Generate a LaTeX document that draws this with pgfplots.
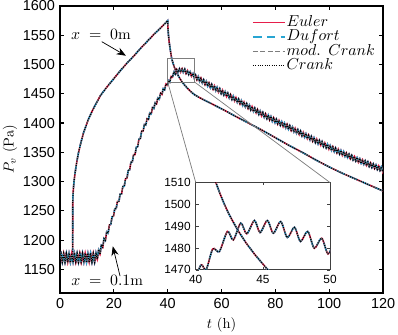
\documentclass[border=0pt]{standalone}
\usepackage{fontspec}
\newfontfamily\helv{Liberation Sans}
\usepackage{pgfplots}
\pgfplotsset{compat=1.18}
\usepackage{pgfplotstable}
\usetikzlibrary{arrows.meta}

\definecolor{eulerred}{RGB}{230,30,75}
\definecolor{dufortcyan}{RGB}{40,165,210}
\definecolor{modgray}{RGB}{125,125,125}

% surface, x = 0 m
\pgfplotstableread{
t P
0 1170
4.7 1170
4.72 1262
4.8 1275
5.0 1290
5.3 1304
5.6 1315
6.2 1333
6.8 1348
7.5 1362
8.7 1383
10.5 1406
12 1421
13 1430
14.2 1440
15 1447
17.5 1462
20 1476
22.5 1490
25 1503
27.5 1515
30 1528
32.5 1540
35 1552
37.5 1563
39 1570
40 1575
40.1 1562
40.25 1552
40.5 1540
40.9 1527
41.2 1518
41.5 1510
41.8 1505
42.1 1500.5
42.45 1495.8
42.8 1491.8
43.2 1487.5
43.75 1482.3
44.4 1477
45.3 1470.5
46.2 1465.3
47.2 1460.2
48.3 1455
49.2 1451.3
50 1448.3
52 1443
55 1436
58 1429
61 1422
65 1412
70 1400
75 1388
80 1375
85 1362
90 1350
95 1337
100 1325
105 1314
110 1304
115 1294
120 1284
}\surf

% depth, x = 0.1 m
\pgfplotstableread{
t P
0 1170
0.35 1178
0.85 1162
1.35 1178
1.85 1162
2.35 1178
2.85 1162
3.35 1178
3.85 1162
4.35 1178
4.85 1162
5.35 1178
5.85 1162
6.35 1178
6.85 1162
7.35 1178
7.85 1162
8.35 1178
8.85 1162
9.35 1178
9.85 1162
10.35 1178
10.85 1162
11.35 1178
11.85 1162
12.35 1178
12.85 1162
13.35 1178.8
13.85 1167.3
14.35 1183.8
14.85 1175.8
15.35 1191.9
15.85 1187.4
16.35 1202.7
16.85 1199.7
17.35 1214.2
17.85 1212.2
18.35 1225.9
18.85 1226.9
19.35 1239.9
19.85 1240.9
20.35 1253.6
20.85 1254.1
21.35 1266.2
21.85 1266.2
22.35 1278.6
22.85 1279.1
23.35 1291.6
23.85 1292.1
24.35 1304.9
24.85 1305.9
25.35 1318.9
25.85 1319.9
26.35 1332.9
26.85 1333.9
27.35 1346.2
27.85 1346.2
28.35 1358.9
28.85 1359.9
29.35 1372.9
29.85 1373.9
30.35 1386.2
30.85 1386.2
31.35 1397.5
31.85 1396.5
32.35 1407.5
32.85 1406.5
33.35 1417.2
33.85 1415.7
34.35 1426.2
34.85 1424.7
35.35 1434.8
35.85 1432.8
36.35 1442.8
36.85 1440.8
37.35 1450.8
37.85 1448.8
38.35 1458.8
38.85 1456.8
39.35 1466.8
39.85 1464.8
40.4 1472.3
40.77 1470
41.27 1479.6
41.76 1478.4
42.36 1487.6
42.8 1483.7
43.35 1491.4
43.8 1486.5
44.37 1492.6
44.79 1487.1
45.33 1492.6
45.78 1486.8
46.33 1492.1
46.82 1484.8
47.35 1489.5
47.8 1483
48.34 1487.6
48.83 1479.9
49.38 1484.5
49.85 1477.3
50.35 1482.1
50.85 1473.9
51.35 1479.4
51.85 1471.2
52.35 1476.7
52.85 1468.5
53.35 1474.0
53.85 1465.8
54.35 1471.3
54.85 1463.1
55.35 1468.6
55.85 1460.4
56.35 1466.1
56.85 1457.9
57.35 1463.6
57.85 1455.4
58.35 1461.1
58.85 1452.9
59.35 1458.6
59.85 1450.4
60.35 1456.1
60.85 1447.9
61.35 1453.6
61.85 1445.4
62.35 1451.1
62.85 1442.9
63.35 1448.6
63.85 1440.4
64.35 1446.1
64.85 1437.9
65.35 1443.6
65.85 1435.4
66.35 1441.0
66.85 1432.8
67.35 1438.4
67.85 1430.2
68.35 1435.8
68.85 1427.6
69.35 1433.2
69.85 1425.0
70.35 1430.6
70.85 1422.4
71.35 1428.1
71.85 1419.9
72.35 1425.6
72.85 1417.4
73.35 1423.1
73.85 1414.9
74.35 1420.6
74.85 1412.4
75.35 1418.1
75.85 1409.9
76.35 1415.8
76.85 1407.6
77.35 1413.5
77.85 1405.3
78.35 1411.2
78.85 1403.0
79.35 1408.9
79.85 1400.7
80.35 1406.6
80.85 1398.4
81.35 1404.4
81.85 1396.2
82.35 1402.2
82.85 1394.0
83.35 1400.0
83.85 1391.8
84.35 1397.8
84.85 1389.6
85.35 1395.6
85.85 1387.4
86.35 1393.3
86.85 1385.1
87.35 1391.0
87.85 1382.8
88.35 1388.7
88.85 1380.5
89.35 1386.4
89.85 1378.2
90.35 1384.1
90.85 1375.9
91.35 1381.8
91.85 1373.6
92.35 1379.5
92.85 1371.3
93.35 1377.2
93.85 1369.0
94.35 1374.9
94.85 1366.7
95.35 1372.6
95.85 1364.4
96.35 1370.4
96.85 1362.2
97.35 1368.2
97.85 1360.0
98.35 1366.0
98.85 1357.8
99.35 1363.8
99.85 1355.6
100.35 1361.6
100.85 1353.4
101.35 1359.5
101.85 1351.3
102.35 1357.4
102.85 1349.2
103.35 1355.3
103.85 1347.1
104.35 1353.2
104.85 1345.0
105.35 1351.1
105.85 1342.9
106.35 1349.1
106.85 1340.9
107.35 1347.1
107.85 1338.9
108.35 1345.1
108.85 1336.9
109.35 1343.1
109.85 1334.9
110.35 1341.1
110.85 1332.9
111.35 1339.3
111.85 1331.1
112.35 1337.5
112.85 1329.3
113.35 1335.7
113.85 1327.5
114.35 1333.9
114.85 1325.7
115.35 1332.1
115.85 1323.9
116.35 1330.4
116.85 1322.2
117.35 1328.7
117.85 1320.5
118.35 1327.0
118.85 1318.8
119.35 1325.3
119.85 1317.1
120 1321
}\deep

\pgfplotsset{
  euler/.style={eulerred, line width=1.1bp},
  dufort/.style={dufortcyan, line width=1.1bp, dash pattern=on 6bp off 3.5bp},
  modcrank/.style={modgray, line width=0.6bp, dash pattern=on 3.5bp off 1.6bp},
  crank/.style={black, line width=0.8bp, dash pattern=on 0.7bp off 0.9bp},
}

\begin{document}
\begin{tikzpicture}
\begin{axis}[
    name=main, at={(0,0)}, anchor=south west,
    scale only axis, width=222.8bp, height=197.9bp,
    xmin=0, xmax=120, ymin=1110, ymax=1600,
    xtick={0,20,...,120}, ytick={1150,1200,...,1600},
    tick align=inside, major tick length=3bp,
    axis line style={line width=1.2bp},
    every tick/.style={black, line width=0.8bp},
    tick label style={font=\helv\fontsize{10}{12}\selectfont},
    /pgf/number format/assume math mode=true,
    /pgf/number format/1000 sep={},
    label style={font=\fontsize{10}{12}\selectfont},
    xlabel={$t$ (h)}, ylabel={$P_v$ (Pa)},
    ylabel shift=-3bp,
    legend style={at={(rel axis cs:0.594,0.967)}, anchor=north west,
        draw=none, fill=none, inner sep=0pt, row sep=0.8bp,
        font=\fontsize{10.5}{11}\selectfont,
        nodes={inner sep=0.6bp, text height=6.5bp, text depth=1.5bp}},
    legend image code/.code={\draw[#1] (0bp,0bp) -- (22bp,0bp);},
    legend cell align=left,
]
\addplot[euler, forget plot] table {\surf};
\addplot[dufort, forget plot] table {\surf};
\addplot[modcrank, forget plot] table {\surf};
\addplot[crank, forget plot] table {\surf};

\addplot[euler, smooth] table {\deep};
\addlegendentry{$Euler$}
\addplot[dufort, smooth] table {\deep};
\addlegendentry{$Dufort$}
\addplot[modcrank, smooth] table {\deep};
\addlegendentry{$mod.\ \,Crank$}
\addplot[crank, smooth] table {\deep};
\addlegendentry{$Crank$}

% zoom window
\draw[modgray, line width=0.6bp] (axis cs:40,1470) rectangle (axis cs:50,1510);
\coordinate (zA) at (axis cs:40,1470);
\coordinate (zB) at (axis cs:50,1470);

% labels of the two depths
\node[font=\fontsize{10.5}{12}\selectfont] at (axis cs:15.2,1552) {$x\;=\;0\mathrm{m}$};
\draw[-{Stealth[length=6.5bp,width=5bp]}, line width=0.5bp]
    (axis cs:15.5,1539) -- (axis cs:24.5,1515);
\node[font=\fontsize{10.5}{12}\selectfont] at (axis cs:17.5,1131) {$x\;=\;0.1\mathrm{m}$};
\draw[-{Stealth[length=6.5bp,width=5bp]}, line width=0.5bp]
    (axis cs:22.3,1138.6) -- (axis cs:19.6,1189.6);
\end{axis}

\begin{axis}[
    name=inset, at={(93.6bp,15.9bp)}, anchor=south west,
    scale only axis, width=92.6bp, height=60.2bp,
    xmin=40, xmax=50, ymin=1470, ymax=1510,
    xtick={40,45,50}, ytick={1470,1480,...,1510},
    tick align=inside, major tick length=2bp,
    axis background/.style={fill=white},
    axis line style={line width=0.5bp, black!75},
    every tick/.style={black!75, line width=0.4bp},
    tick label style={font=\helv\fontsize{8.2}{10}\selectfont},
    /pgf/number format/assume math mode=true,
    /pgf/number format/1000 sep={},
]
\addplot[euler] table {\surf};
\addplot[dufort] table {\surf};
\addplot[modcrank] table {\surf};
\addplot[crank] table {\surf};
\addplot[euler, smooth] table {\deep};
\addplot[dufort, smooth] table {\deep};
\addplot[modcrank, smooth] table {\deep};
\addplot[crank, smooth] table {\deep};
\end{axis}

\draw[modgray, line width=0.5bp] (zA) -- (inset.north west);
\draw[modgray, line width=0.5bp] (zB) -- (inset.north east);

\pgfresetboundingbox
\useasboundingbox (-41.4bp,-29bp) rectangle (233.1bp,202bp);
\end{tikzpicture}
\end{document}
